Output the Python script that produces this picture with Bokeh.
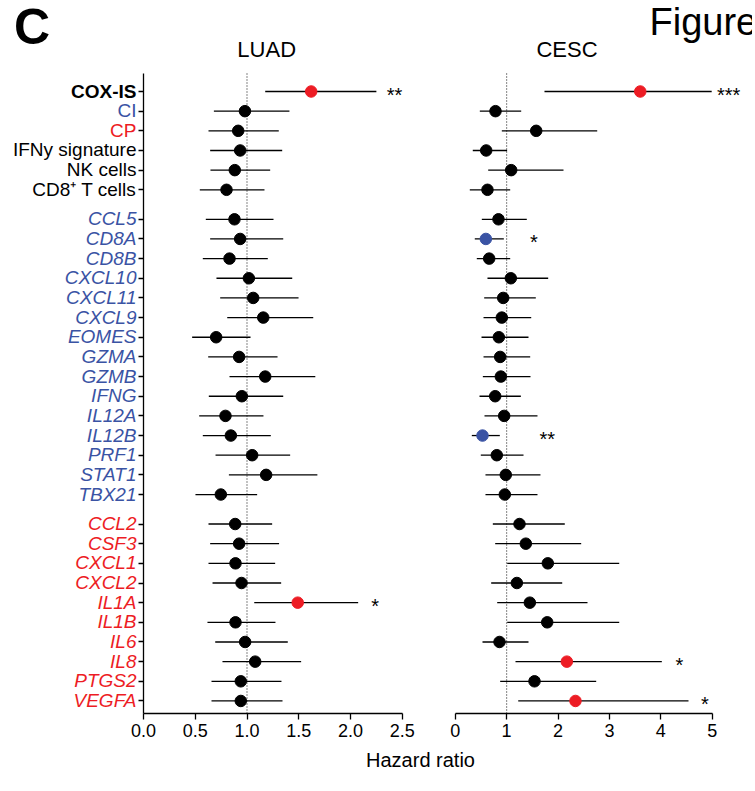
from bokeh.plotting import figure
from bokeh.models import (ColumnDataSource, Range1d, FixedTicker, CustomJSTickFormatter,
                          PrintfTickFormatter, LinearAxis)
from bokeh.embed import file_html
from bokeh.resources import INLINE
from bokeh.core.properties import value

FONT = "Liberation Sans"

# ---------------- data ----------------
labels = ["COX-IS", "CI", "CP", "IFNy signature", "NK cells", "CD8\u207a T cells",
          "CCL5", "CD8A", "CD8B", "CXCL10", "CXCL11", "CXCL9", "EOMES", "GZMA", "GZMB",
          "IFNG", "IL12A", "IL12B", "PRF1", "STAT1", "TBX21",
          "CCL2", "CSF3", "CXCL1", "CXCL2", "IL1A", "IL1B", "IL6", "IL8", "PTGS2", "VEGFA"]
groups = [0] * 6 + [1] * 15 + [2] * 10

luad_hr = [1.62, 0.98, 0.915, 0.934, 0.882, 0.802,
           0.879, 0.934, 0.831, 1.018, 1.06, 1.157, 0.702, 0.924, 1.176,
           0.95, 0.792, 0.844, 1.05, 1.185, 0.747,
           0.886, 0.924, 0.889, 0.947, 1.49, 0.889, 0.982, 1.079, 0.94, 0.94]
luad_lo = [1.176, 0.68, 0.628, 0.644, 0.647, 0.544,
           0.602, 0.644, 0.573, 0.705, 0.741, 0.809, 0.47, 0.625, 0.831,
           0.631, 0.538, 0.573, 0.696, 0.825, 0.502,
           0.628, 0.644, 0.628, 0.667, 1.07, 0.618, 0.693, 0.763, 0.657, 0.657]
luad_hi = [2.25, 1.41, 1.307, 1.34, 1.224, 1.169,
           1.256, 1.35, 1.201, 1.437, 1.498, 1.64, 1.034, 1.295, 1.66,
           1.35, 1.159, 1.23, 1.417, 1.68, 1.098,
           1.243, 1.31, 1.272, 1.33, 2.074, 1.275, 1.394, 1.523, 1.333, 1.343]
luad_sig = ["**", "", "", "", "", "",
            "", "", "", "", "", "", "", "", "",
            "", "", "", "", "", "",
            "", "", "", "", "*", "", "", "", "", ""]

cesc_hr = [3.6, 0.784, 1.576, 0.603, 1.089, 0.628,
           0.842, 0.596, 0.661, 1.082, 0.934, 0.907, 0.849, 0.875, 0.888,
           0.778, 0.953, 0.531, 0.809, 0.984, 0.965,
           1.251, 1.374, 1.802, 1.199, 1.452, 1.79, 0.862, 2.172, 1.543, 2.34]
cesc_lo = [1.737, 0.479, 0.907, 0.342, 0.642, 0.284,
           0.518, 0.381, 0.42, 0.628, 0.564, 0.551, 0.512, 0.551, 0.538,
           0.473, 0.57, 0.323, 0.498, 0.589, 0.589,
           0.732, 0.778, 1.012, 0.7, 0.817, 1.012, 0.531, 1.173, 0.875, 1.226]
cesc_hi = [4.99, 1.284, 2.763, 1.01, 2.107, 1.07,
           1.393, 0.946, 1.07, 1.809, 1.568, 1.479, 1.426, 1.459, 1.465,
           1.277, 1.601, 0.868, 1.329, 1.659, 1.601,
           2.132, 2.451, 3.191, 2.082, 2.574, 3.191, 1.426, 4.02, 2.743, 4.539]
cesc_sig = ["***", "", "", "", "", "",
            "", "*", "", "", "", "", "", "", "",
            "", "", "**", "", "", "",
            "", "", "", "", "", "", "", "*", "", "*"]

luad_ticks = [0.0, 0.5, 1.0, 1.5, 2.0, 2.5]
cesc_ticks = [0, 1, 2, 3, 4, 5]

# star label x-positions (annotation placement, data units)
luad_star_x = {"COX-IS": 2.425, "IL1A": 2.239}
cesc_star_x = {"COX-IS": 5.32, "CD8A": 1.53, "IL12B": 1.79, "IL8": 4.36, "VEGFA": 4.86}

# ---------------- layout constants (page pixels) ----------------
OX, OY = 1, 1            # canvas origin on the page
W, H = 752, 788          # canvas size
LUAD_X0, LUAD_U = 144.0, 103.5   # page x of HR=0 and px per unit (LUAD)
CESC_X0, CESC_U = 455.7, 51.4    # page x of HR=0 and px per unit (CESC)
ROW0, ROW_PX = 92.0, 19.66       # page y of first row and px per row
AX_TOP, AX_BOT = 74.0, 714.0     # page y of axis top / bottom


def ry(py):
    return (py - ROW0) / ROW_PX


RED = "#ed1c24"
BLUE = "#3a53a4"
pos = [i + 0.5 * g for i, g in enumerate(groups)]
y_top, y_bot = ry(AX_TOP), ry(AX_BOT)

lab_color, lab_style = [], []
for lab, g in zip(labels, groups):
    if lab == "COX-IS":
        lab_color.append("black"); lab_style.append("bold")
    elif lab == "CI":
        lab_color.append(BLUE); lab_style.append("normal")
    elif lab == "CP":
        lab_color.append(RED); lab_style.append("normal")
    elif g == 0:
        lab_color.append("black"); lab_style.append("normal")
    elif g == 1:
        lab_color.append(BLUE); lab_style.append("italic")
    else:
        lab_color.append(RED); lab_style.append("italic")


def dot_colors(hr, sig):
    out = []
    for h, s in zip(hr, sig):
        if s and h > 1:
            out.append(RED)
        elif s:
            out.append(BLUE)
        else:
            out.append("black")
    return out


p = figure(width=W, height=H,
           x_range=Range1d((OX - LUAD_X0) / LUAD_U, (OX + W - LUAD_X0) / LUAD_U),
           y_range=Range1d(ry(OY + H), ry(OY)),
           output_backend="svg", toolbar_location=None,
           x_axis_location=None, y_axis_location=None, min_border=0)
p.extra_x_ranges = {"cesc": Range1d((OX - CESC_X0) / CESC_U, (OX + W - CESC_X0) / CESC_U)}
p.xgrid.visible = False
p.ygrid.visible = False
p.outline_line_color = None
p.background_fill_color = "white"
p.border_fill_color = "white"


def style_x(ax, ticks, fmt, bounds):
    ax.ticker = FixedTicker(ticks=ticks)
    ax.formatter = fmt
    ax.bounds = bounds
    ax.fixed_location = y_bot
    ax.major_label_text_font = FONT
    ax.major_label_text_font_size = "18px"
    ax.major_label_text_color = "black"
    ax.axis_line_width = 1.3
    ax.major_tick_line_width = 1.3
    ax.major_tick_out = 6
    ax.major_tick_in = 0
    ax.minor_tick_line_color = None
    ax.major_label_standoff = 4


ax1 = LinearAxis()
style_x(ax1, luad_ticks, PrintfTickFormatter(format="%.1f"), (0, 2.5))
p.add_layout(ax1, "below")
ax2 = LinearAxis(x_range_name="cesc")
style_x(ax2, cesc_ticks, PrintfTickFormatter(format="%d"), (0, 5))
p.add_layout(ax2, "below")

ay = LinearAxis(ticker=FixedTicker(ticks=pos), formatter=CustomJSTickFormatter(code="return ''"))
ay.fixed_location = 0
ay.bounds = (y_bot, y_top)
ay.axis_line_width = 1.3
ay.major_tick_line_width = 1.3
ay.major_tick_out = 5
ay.major_tick_in = 0
ay.minor_tick_line_color = None
ay.major_label_standoff = 0
p.add_layout(ay, "left")


def draw(hr, lo, hi, sig, star_x, rng):
    kw = {} if rng is None else {"x_range_name": rng}
    # reference line at HR = 1
    p.segment(x0=[1], y0=[y_top], x1=[1], y1=[y_bot], line_color="#333333",
              line_dash="1 2", line_width=1.2, **kw)
    src = ColumnDataSource(dict(pos=pos, hr=hr, lo=lo, hi=hi, col=dot_colors(hr, sig)))
    p.segment(x0="lo", y0="pos", x1="hi", y1="pos", source=src,
              line_color="black", line_width=1.3, **kw)
    p.scatter(x="hr", y="pos", source=src, size=11.5,
              fill_color="col", line_color="col", **kw)
    sx, sy, st = [], [], []
    for lab, ps, s in zip(labels, pos, sig):
        if s:
            sx.append(star_x[lab]); sy.append(ps + 3.0 / ROW_PX); st.append(s)
    p.text(x=sx, y=sy, text=st, text_align="center", text_baseline="alphabetic",
           text_font=value(FONT), text_font_size="20px", text_color="black", **kw)


draw(luad_hr, luad_lo, luad_hi, luad_sig, luad_star_x, None)
draw(cesc_hr, cesc_lo, cesc_hi, cesc_sig, cesc_star_x, "cesc")

# row labels
lsrc = ColumnDataSource(dict(x=[-7.0 / LUAD_U] * len(labels),
                             y=[ps - 0.5 / ROW_PX for ps in pos],
                             t=labels, c=lab_color, s=lab_style))
p.text(x="x", y="y", text="t", source=lsrc, text_align="right",
       text_baseline="alphabetic", text_font=value(FONT),
       text_font_size="19px", text_color="c", text_font_style="s")

# titles and panel letter
p.text(x=[(267.2 - LUAD_X0) / LUAD_U], y=[ry(50.3)], text=["LUAD"], text_align="center",
       text_baseline="alphabetic", text_font=value(FONT), text_font_size="22px",
       text_color="black")
p.text(x=[(567.5 - CESC_X0) / CESC_U], y=[ry(50.3)], text=["CESC"], text_align="center",
       text_baseline="alphabetic", text_font=value(FONT), text_font_size="22px",
       text_color="black", x_range_name="cesc")
p.text(x=[(14.5 - LUAD_X0) / LUAD_U], y=[ry(27.0)], text=["C"], text_align="left",
       text_baseline="alphabetic", text_font=value(FONT), text_font_size="50px",
       text_font_style="bold", text_color="black")
p.text(x=[(650.0 - CESC_X0) / CESC_U], y=[ry(22.0)], text=["Figure"], text_align="left",
       text_baseline="alphabetic", text_font=value(FONT), text_font_size="38px",
       text_color="black", x_range_name="cesc")
p.text(x=[(421.0 - LUAD_X0) / LUAD_U], y=[ry(760.0)], text=["Hazard ratio"],
       text_align="center", text_baseline="alphabetic", text_font=value(FONT),
       text_font_size="20px", text_color="black")

open("out.html", "w").write(file_html(p, INLINE))
